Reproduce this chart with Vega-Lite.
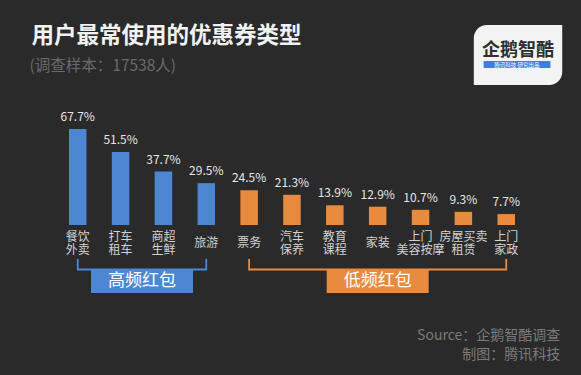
{
  "$schema": "https://vega.github.io/schema/vega-lite/v6.json",
  "width": 581,
  "height": 375,
  "autosize": {"type": "fit", "contains": "padding"},
  "padding": 0,
  "background": "#2a2a2a",
  "config": {"view": {"stroke": null}, "font": "Noto Sans CJK SC"},
  "datasets": {
    "coupons": [
      {"cat": "餐饮\n外卖", "value": 67.7, "group": "高频红包"},
      {"cat": "打车\n租车", "value": 51.5, "group": "高频红包"},
      {"cat": "商超\n生鲜", "value": 37.7, "group": "高频红包"},
      {"cat": "旅游", "value": 29.5, "group": "高频红包"},
      {"cat": "票务", "value": 24.5, "group": "低频红包"},
      {"cat": "汽车\n保养", "value": 21.3, "group": "低频红包"},
      {"cat": "教育\n课程", "value": 13.9, "group": "低频红包"},
      {"cat": "家装", "value": 12.9, "group": "低频红包"},
      {"cat": "上门\n美容按摩", "value": 10.7, "group": "低频红包"},
      {"cat": "房屋买卖\n租赁", "value": 9.3, "group": "低频红包"},
      {"cat": "上门\n家政", "value": 7.7, "group": "低频红包"}
    ]
  },
  "data": {"name": "coupons"},
  "transform": [{"window": [{"op": "row_number", "as": "idx"}]}],
  "encoding": {
    "x": {"type": "quantitative", "scale": {"domain": [-0.697, 12.628], "nice": false, "zero": false}, "axis": null},
    "y": {"type": "quantitative", "scale": {"domain": [-105.8, 158.7], "nice": false, "zero": false}, "axis": null}
  },
  "layer": [
    {
      "mark": {"type": "bar", "size": 17.5},
      "encoding": {
        "x": {"field": "idx", "type": "quantitative"},
        "y": {"field": "value", "type": "quantitative"},
        "color": {"field": "group", "type": "nominal", "scale": {"domain": ["高频红包", "低频红包"], "range": ["#4d87d3", "#e88b3e"]}, "legend": null}
      }
    },
    {
      "transform": [{"calculate": "format(datum.value, '.1f') + '%'", "as": "lbl"}],
      "mark": {"type": "text", "baseline": "middle", "dy": -12, "fontSize": 12, "color": "#e6e6e6"},
      "encoding": {
        "x": {"field": "idx", "type": "quantitative"},
        "y": {"field": "value", "type": "quantitative"},
        "text": {"field": "lbl"}
      }
    },
    {
      "transform": [{"filter": "indexof(datum.cat, '\\n') < 0"}],
      "mark": {"type": "text", "baseline": "middle", "fontSize": 12, "color": "#d2d2d2"},
      "encoding": {
        "x": {"field": "idx", "type": "quantitative"},
        "y": {"datum": -12.7},
        "text": {"field": "cat"}
      }
    },
    {
      "transform": [{"filter": "indexof(datum.cat, '\\n') >= 0"}],
      "mark": {"type": "text", "baseline": "middle", "lineBreak": "\n", "fontSize": 12, "lineHeight": 13, "color": "#d2d2d2"},
      "encoding": {
        "x": {"field": "idx", "type": "quantitative"},
        "y": {"datum": -8.2},
        "text": {"field": "cat"}
      }
    },
    {
      "transform": [{"aggregate": [{"op": "min", "field": "idx", "as": "lo"}, {"op": "max", "field": "idx", "as": "hi"}], "groupby": ["group"]}],
      "mark": {"type": "rule", "strokeWidth": 1.8},
      "encoding": {
        "x": {"field": "lo", "type": "quantitative"},
        "x2": {"field": "hi"},
        "y": {"datum": -31.4},
        "color": {"field": "group", "type": "nominal", "legend": null}
      }
    },
    {
      "transform": [
        {"aggregate": [{"op": "min", "field": "idx", "as": "lo"}, {"op": "max", "field": "idx", "as": "hi"}], "groupby": ["group"]},
        {"fold": ["lo", "hi"], "as": ["end", "pos"]}
      ],
      "mark": {"type": "rule", "strokeWidth": 1.8},
      "encoding": {
        "x": {"field": "pos", "type": "quantitative"},
        "y": {"datum": -23.9},
        "y2": {"datum": -32},
        "color": {"field": "group", "type": "nominal", "legend": null}
      }
    },
    {
      "transform": [
        {"aggregate": [{"op": "min", "field": "idx", "as": "lo"}, {"op": "max", "field": "idx", "as": "hi"}], "groupby": ["group"]},
        {"calculate": "(datum.lo + datum.hi) / 2", "as": "mid"}
      ],
      "mark": {"type": "point", "shape": "M-1,-0.2255L1,-0.2255L1,0.2255L-1,0.2255Z", "size": 10404, "filled": true, "opacity": 1, "strokeWidth": 0},
      "encoding": {
        "x": {"field": "mid", "type": "quantitative"},
        "y": {"datum": -39.8},
        "color": {"field": "group", "type": "nominal", "legend": null}
      }
    },
    {
      "transform": [
        {"aggregate": [{"op": "min", "field": "idx", "as": "lo"}, {"op": "max", "field": "idx", "as": "hi"}], "groupby": ["group"]},
        {"calculate": "(datum.lo + datum.hi) / 2", "as": "mid"}
      ],
      "mark": {"type": "text", "baseline": "middle", "fontSize": 17, "color": "#ffffff"},
      "encoding": {
        "x": {"field": "mid", "type": "quantitative"},
        "y": {"datum": -39.8},
        "text": {"field": "group"}
      }
    },
    {
      "data": {"values": [{"t": "用户最常使用的优惠券类型"}]},
      "mark": {"type": "text", "align": "left", "baseline": "middle", "fontSize": 22.5, "fontWeight": "bold", "color": "#f2f2f2"},
      "encoding": {"x": {"datum": -0.078}, "y": {"datum": 133.3}, "text": {"field": "t"}}
    },
    {
      "data": {"values": [{"t": "(调查样本：17538人)"}]},
      "mark": {"type": "text", "align": "left", "baseline": "middle", "fontSize": 15.5, "color": "#6a6a6a"},
      "encoding": {"x": {"datum": -0.124}, "y": {"datum": 111.8}, "text": {"field": "t"}}
    },
    {
      "data": {"values": [{"t": "Source：企鹅智酷调查"}, {"t": "制图：腾讯科技"}]},
      "transform": [{"window": [{"op": "row_number", "as": "line"}]}, {"calculate": "datum.line == 1 ? -78.3 : -91.7", "as": "yy"}],
      "mark": {"type": "text", "align": "right", "baseline": "middle", "fontSize": 14, "color": "#7a7a7a"},
      "encoding": {"x": {"datum": 12.261}, "y": {"field": "yy", "type": "quantitative"}, "text": {"field": "t"}}
    },
    {
      "data": {"values": [{}]},
      "mark": {"type": "rect", "color": "#f3f3f3", "cornerRadiusTopLeft": 13, "cornerRadiusBottomRight": 13},
      "encoding": {"x": {"datum": 10.243}, "x2": {"datum": 12.307}, "y": {"datum": 141.0}, "y2": {"datum": 98.7}}
    },
    {
      "data": {"values": [{}]},
      "mark": {"type": "rect", "color": "#3d7fe0"},
      "encoding": {"x": {"datum": 10.472}, "x2": {"datum": 12.032}, "y": {"datum": 115.7}, "y2": {"datum": 110.7}}
    },
    {
      "data": {"values": [{"t": "企鹅智酷"}]},
      "mark": {"type": "text", "baseline": "middle", "fontSize": 18, "fontWeight": "bold", "color": "#2f2f2f"},
      "encoding": {"x": {"datum": 11.275}, "y": {"datum": 122.7}, "text": {"field": "t"}}
    },
    {
      "data": {"values": [{"t": "腾讯科技   研究出品"}]},
      "mark": {"type": "text", "baseline": "middle", "fontSize": 5.5, "color": "#ffffff"},
      "encoding": {"x": {"datum": 11.25}, "y": {"datum": 113.2}, "text": {"field": "t"}}
    }
  ]
}
